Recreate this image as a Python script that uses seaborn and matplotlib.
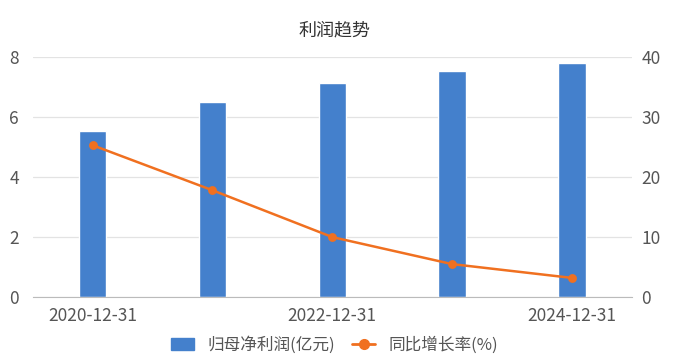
import matplotlib
matplotlib.use('Agg')
import matplotlib.pyplot as plt
import seaborn as sns
from matplotlib.patches import Patch
from matplotlib.lines import Line2D

dates = ['2020-12-31', '2021-12-31', '2022-12-31', '2023-12-31', '2024-12-31']
profit = [5.53, 6.50, 7.13, 7.53, 7.80]
growth = [25.3, 17.8, 10.0, 5.5, 3.2]
tick_labels = ['2020-12-31', '', '2022-12-31', '', '2024-12-31']

bar_color = '#4480cc'
line_color = '#f07020'

sns.set_style('white')
plt.rcParams['font.family'] = ['Noto Sans CJK SC', 'DejaVu Sans']

fig = plt.figure(figsize=(6.83, 3.61), dpi=100)
ax = fig.add_axes([0.048, 0.177, 0.877, 0.665])

sns.barplot(x=dates, y=profit, ax=ax, color=bar_color, width=0.23, saturation=1, zorder=2)
ax.set_ylim(0, 8)
ax.set_yticks([0, 2, 4, 6, 8])
ax.set_xlim(-0.5, 4.5)
ax.grid(axis='y', color='#e3e3e3', linewidth=0.9, zorder=0)
ax.set_axisbelow(True)
for s in ['top', 'right', 'left']:
    ax.spines[s].set_visible(False)
ax.spines['bottom'].set_color('#bbbbbb')
ax.set_xticks(range(len(dates)))
ax.set_xticklabels(tick_labels)
ax.tick_params(axis='x', length=5, color='#bbbbbb', labelsize=12.5, labelcolor='#555555', pad=2)
ax.tick_params(axis='y', length=0, labelsize=12.5, labelcolor='#555555', pad=10)

ax2 = ax.twinx()
sns.pointplot(x=dates, y=growth, ax=ax2, color=line_color, markers='o',
              markersize=5, linewidth=1.8)
ax2.set_ylim(0, 40)
ax2.set_yticks([0, 10, 20, 30, 40])
ax2.set_xlim(-0.5, 4.5)
for s in ['top', 'right', 'left', 'bottom']:
    ax2.spines[s].set_visible(False)
ax2.tick_params(axis='y', length=0, labelsize=12.5, labelcolor='#555555', pad=7)
ax2.set_ylabel('')
ax.set_ylabel('')

fig.text(0.49, 0.915, '利润趋势', ha='center', va='center', fontsize=13, color='#333333')

handles = [Patch(color=bar_color, label='归母净利润(亿元)'),
           Line2D([0], [0], color=line_color, marker='o', markersize=7, linewidth=2, label='同比增长率(%)')]
fig.legend(handles=handles, loc='center', bbox_to_anchor=(0.49, 0.045), ncol=2, frameon=False,
           fontsize=12, labelcolor='#555555', handlelength=1.4, columnspacing=1.0, handletextpad=0.8)

fig.savefig('out.png', dpi=100)
